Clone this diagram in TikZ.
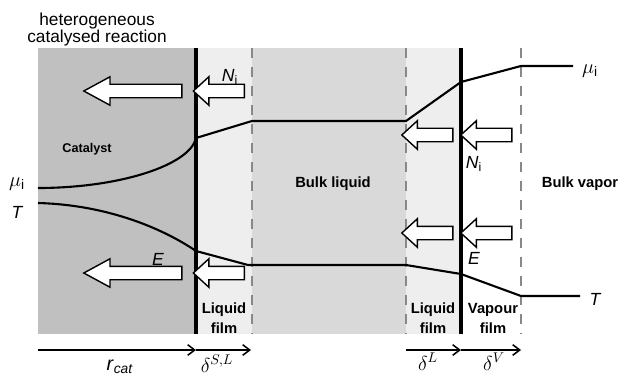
\documentclass[tikz,border=0pt]{standalone}
\usepackage{fontspec}
\setmainfont{Liberation Sans}
\usetikzlibrary{shapes.arrows,arrows.meta}

\definecolor{catgray}{HTML}{C0C0C0}
\definecolor{filmgray}{HTML}{EEEEEE}
\definecolor{bulkgray}{HTML}{D9D9D9}
\definecolor{dashgray}{HTML}{888888}

\tikzset{
  rx-interface/.style={draw=black, line width=2.6pt},
  rx-boundary/.style={draw=dashgray, line width=1.9pt, dash pattern=on 7pt off 6.5pt},
  rx-profile/.style={draw=black, line width=1.5pt},
  rx-axis/.style={-{Straight Barb[length=5pt, width=7.5pt]}, line width=1.1pt},
  rx-region/.style={font=\fontsize{10.5}{14.2}\selectfont\bfseries, align=center},
  rx-flux/.style={font=\fontsize{12.5}{14}\selectfont\itshape},
  rx-pot/.style={font=\fontsize{14}{16}\selectfont},
  rx-delta/.style={font=\fontsize{14}{16}\selectfont, anchor=base},
}

\begin{document}
\begin{tikzpicture}[
        x=0.025cm, y=-0.025cm,
        rx-bigflux/.style={single arrow, draw=black, fill=white, line width=1pt, rotate=180,
            inner xsep=0pt, inner ysep=1.5mm, single arrow head extend=1.875mm,
            single arrow tip angle=57, minimum height=24.5mm},
        rx-smallflux/.style={rx-bigflux, single arrow tip angle=85, minimum height=12.75mm}
    ]
    \useasboundingbox (0,0) rectangle (619,375);

    % Regions: catalyst, films, bulk liquid
    \fill[catgray]  (38,48)  rectangle (196,334);
    \fill[filmgray] (196,48) rectangle (252,334);
    \fill[bulkgray] (252,48) rectangle (406,334);
    \fill[filmgray] (406,48) rectangle (461,334);

    % Film boundaries and interfaces
    \draw[rx-boundary] (252,48) -- (252,334);
    \draw[rx-boundary] (406,48) -- (406,334);
    \draw[rx-boundary] (521,48) -- (521,334);

    % Profiles: chemical potential and temperature
    \draw[rx-profile] (38,188) .. controls (120,188) and (190,165) .. (196,138)
        -- (252,121) -- (406,121) -- (461,82) -- (521,66) -- (573,66);
    \draw[rx-profile] (38,203) .. controls (110,205) and (165,230) .. (196,251)
        -- (248,265) -- (406,265) -- (461,274) -- (521,296) -- (580,296);

    \draw[rx-interface] (196,48) -- (196,334);
    \draw[rx-interface] (461,48) -- (461,334);

    % Nodes: flux arrows, catalyst side
    \node[rx-bigflux]   (Ncat)   at (139,91)    {};
    \node[rx-smallflux] (NfilmL) at (222.5,91)  {};
    \node[rx-bigflux]   (Ecat)   at (139,273)   {};
    \node[rx-smallflux] (EfilmL) at (222.5,273) {};

    % Nodes: flux arrows, vapour side
    \node[rx-smallflux] (NfilmR) at (431,135) {};
    \node[rx-smallflux] (Nvap)   at (490,135) {};
    \node[rx-smallflux] (EfilmR) at (431,233) {};
    \node[rx-smallflux] (Evap)   at (490,233) {};

    % Labels: fluxes and profiles
    \node[rx-flux] (NiL) at (230,77)  {N\textsubscript{\upshape i}};
    \node[rx-flux] (NiR) at (474,164) {N\textsubscript{\upshape i}};
    \node[rx-flux] (EL)  at (158,259) {E};
    \node[rx-flux] (ER)  at (474,258) {E};
    \node[rx-flux] (TL)  at (17,212)  {T};
    \node[rx-flux] (TR)  at (595,299) {T};
    \node[rx-pot]  (muL) at (17,184)  {$\mu_{\mathrm{i}}$};
    \node[rx-pot]  (muR) at (590,71)  {$\mu_{\mathrm{i}}$};

    % Labels: regions
    \node[align=center, font=\fontsize{12.3}{12.1}\selectfont] (title) at (97,30) {heterogeneous\\catalysed reaction};
    \node[rx-region, font=\fontsize{9}{11}\selectfont\bfseries] (cat) at (87,149) {Catalyst};
    \node[rx-region] (bulkL) at (333,184) {Bulk liquid};
    \node[rx-region] (bulkV) at (580,184) {Bulk vapor};
    \node[rx-region] (filmSL) at (224,318) {Liquid\\film};
    \node[rx-region] (filmL)  at (433,318) {Liquid\\film};
    \node[rx-region] (filmV)  at (493,318) {Vapour\\film};

    % Axis: film thicknesses
    \coordinate (a0) at (38,350);
    \coordinate (a1) at (196,350);
    \coordinate (a2) at (251,350);
    \coordinate (a3) at (406,350);
    \coordinate (a4) at (461,350);
    \coordinate (a5) at (521,350);
    \draw[rx-axis] (a0) -- (a1);
    \draw[rx-axis] (a1) -- (a2);
    \draw[rx-axis] (a3) -- (a4);
    \draw[rx-axis] (a4) -- (a5);

    \node[rx-delta] (rcat) at (120,370) {\textit{r}\textsubscript{\textit{cat}}};
    \node[rx-delta] (dSL)  at (217,372) {$\delta^{S,L}$};
    \node[rx-delta] (dL)   at (428,370) {$\delta^{L}$};
    \node[rx-delta] (dV)   at (494,370) {$\delta^{V}$};

    \end{tikzpicture}
\end{document}
